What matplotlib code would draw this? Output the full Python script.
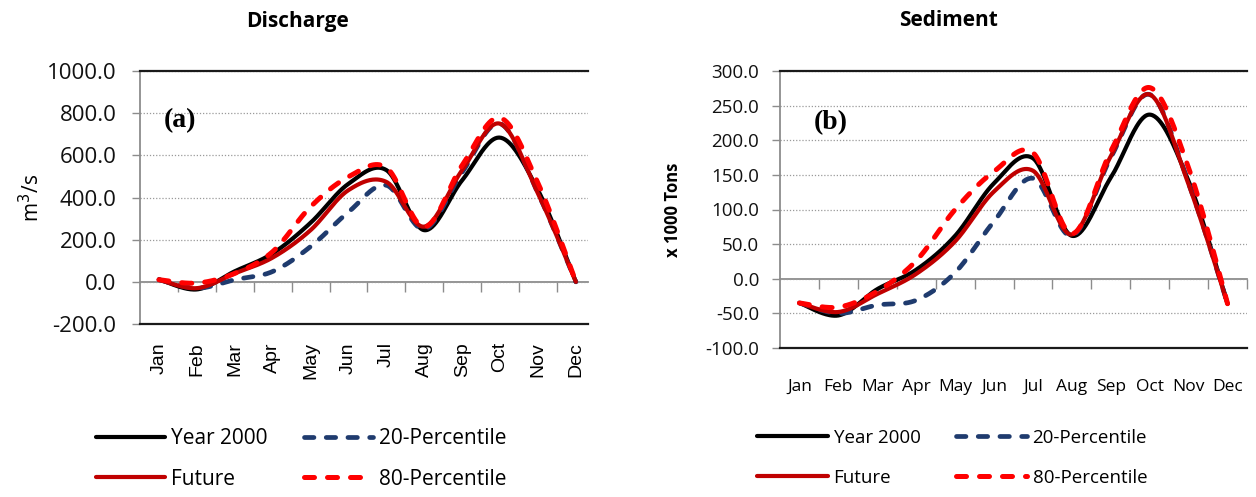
import numpy as np
import matplotlib
matplotlib.use("Agg")
import matplotlib.pyplot as plt

# ---- data -------------------------------------------------------------
months = ["Jan", "Feb", "Mar", "Apr", "May", "Jun",
          "Jul", "Aug", "Sep", "Oct", "Nov", "Dec"]

discharge_year2000 = [12, -36, 50, 135, 280, 465, 530, 245, 482, 684, 435, 0]
discharge_future = [10, -30, 40, 115, 245, 435, 474, 262, 530, 750, 419, 0]
discharge_p20 = [10, -30, 10, 49, 167, 331, 458, 250, 520, 750, 420, 0]
discharge_p80 = [10, -6, 40, 143, 356, 498, 542, 260, 553, 778, 468, 0]

sediment_year2000 = [-35, -53, -15, 13, 62, 138, 174, 62, 146, 237, 141, -36]
sediment_future = [-35, -48, -22, 7, 54, 126, 156, 64, 177, 266, 136, -36]
sediment_p20 = [-35, -50, -38, -31, 9, 83, 145, 62, 175, 266, 138, -36]
sediment_p80 = [-35, -41, -18, 26, 100, 155, 182, 65, 184, 276, 160, -36]

series_labels = ["Year 2000", "20-Percentile", "Future", "80-Percentile"]

discharge_ticks = [-200, 0, 200, 400, 600, 800, 1000]
sediment_ticks = [-100, -50, 0, 50, 100, 150, 200, 250, 300]

# ---- helpers ----------------------------------------------------------
def smooth(y, n=40):
    """Spreadsheet-style smoothed line (cubic Bezier, Catmull-Rom tangents)."""
    y = np.asarray(y, float)
    x = np.arange(len(y), dtype=float)
    px = np.concatenate([[x[0]], x, [x[-1]]])
    py = np.concatenate([[y[0]], y, [y[-1]]])
    t = np.linspace(0, 1, n)[:, None]
    out = []
    for i in range(len(y) - 1):
        p0 = np.array([px[i], py[i]])
        p1 = np.array([px[i + 1], py[i + 1]])
        p2 = np.array([px[i + 2], py[i + 2]])
        p3 = np.array([px[i + 3], py[i + 3]])
        c1 = p1 + (p2 - p0) / 6.0
        c2 = p2 - (p3 - p1) / 6.0
        seg = ((1 - t) ** 3) * p1 + 3 * ((1 - t) ** 2) * t * c1 \
            + 3 * (1 - t) * t ** 2 * c2 + t ** 3 * p2
        out.append(seg if i == 0 else seg[1:])
    pts = np.vstack(out)
    return pts[:, 0], pts[:, 1]


styles = {
    "Year 2000": dict(color="#000000", lw=3.0, ls="-", zorder=3),
    "20-Percentile": dict(color="#1F3B6E", lw=3.4, ls=(0, (2.0, 2.6)), zorder=4),
    "Future": dict(color="#C00000", lw=3.0, ls="-", zorder=5),
    "80-Percentile": dict(color="#FF0000", lw=3.6, ls=(0, (2.0, 2.6)), zorder=6),
}

GRAY = "#8C8C8C"
SANS = ["Open Sans", "DejaVu Sans"]


def draw_panel(ax, data, yticks, ylim, xright, tick_fs, tick_pad):
    lines = {}
    for label, vals in zip(series_labels, data):
        st = styles[label]
        xs, ys = smooth(vals)
        ln, = ax.plot(xs, ys, color=st["color"], lw=st["lw"], ls=st["ls"],
                      zorder=st["zorder"], solid_capstyle="round",
                      dash_capstyle="round", label=label)
        lines[label] = ln
    ax.set_xlim(-0.5, xright)
    ax.set_ylim(*ylim)
    ax.set_yticks(yticks)
    ax.set_yticklabels([f"{v:.1f}" for v in yticks], family=SANS,
                       fontsize=tick_fs, color="#111111")
    ax.tick_params(axis="y", direction="out", length=6, width=1.0,
                   color=GRAY, pad=tick_pad)
    ax.grid(axis="y", ls=(0, (1, 1.5)), color="#9A9A9A", lw=0.9, zorder=0)
    ax.set_axisbelow(True)
    for side in ("top", "bottom"):
        ax.spines[side].set_color("#1A1A1A")
        ax.spines[side].set_linewidth(1.6)
    ax.spines["left"].set_color(GRAY)
    ax.spines["left"].set_linewidth(1.3)
    ax.spines["right"].set_visible(False)
    # category axis crossing at zero with tick marks between months
    zero_frac = (0 - ylim[0]) / (ylim[1] - ylim[0])
    sec = ax.secondary_xaxis(zero_frac)
    sec.set_xticks(np.arange(len(months)) + 0.5)
    sec.set_xticklabels([])
    sec.tick_params(direction="out", length=7, width=1.0, color=GRAY)
    sec.spines["bottom"].set_color(GRAY)
    sec.spines["bottom"].set_linewidth(1.3)
    ax.set_xticks(np.arange(len(months)))
    ax.tick_params(axis="x", length=0)
    return lines


fig = plt.figure(figsize=(12.56, 4.97), dpi=100)

# ---- Discharge --------------------------------------------------------
ax1 = fig.add_axes([140 / 1256, 1 - 324 / 497, 448 / 1256, 253 / 497])
lines1 = draw_panel(ax1, [discharge_year2000, discharge_p20,
                          discharge_future, discharge_p80],
                    discharge_ticks, (-200, 1000), 11.32, 16, 11)
ax1.set_xticklabels(months, rotation=90, family=["Liberation Sans"],
                    fontsize=14, va="top")
ax1.tick_params(axis="x", pad=13)
ax1.set_ylabel("m$^3$/s", family=SANS, fontsize=15, labelpad=2)
fig.text(297 / 1256, 1 - 21 / 497, "Discharge", family=SANS, fontsize=15,
         fontweight="bold", ha="center", va="center")
fig.text(180 / 1256, 1 - 121 / 497, "(a)", family=["Liberation Serif"],
         fontsize=20, fontweight="bold", ha="center", va="center")

# ---- Sediment ---------------------------------------------------------
ax2 = fig.add_axes([780 / 1256, 1 - 348 / 497, 467 / 1256, 277 / 497])
lines2 = draw_panel(ax2, [sediment_year2000, sediment_p20,
                          sediment_future, sediment_p80],
                    sediment_ticks, (-100, 300), 11.5, 13.5, 9)
ax2.set_xticklabels(months, family=SANS, fontsize=12.5)
ax2.tick_params(axis="x", pad=22)
ax2.set_ylabel("x 1000 Tons", family=SANS, fontsize=12, fontweight="bold",
               labelpad=17)
fig.text(948 / 1256, 1 - 21 / 497, "Sediment", family=SANS, fontsize=15,
         fontweight="bold", ha="center", va="center")
fig.text(831 / 1256, 1 - 123 / 497, "(b)", family=["Liberation Serif"],
         fontsize=20, fontweight="bold", ha="center", va="center")

# ---- legends ----------------------------------------------------------
order = ["Year 2000", "Future", "20-Percentile", "80-Percentile"]
fig.legend([lines1[k] for k in order], order, loc="upper left",
           bbox_to_anchor=(96 / 1256, 1 - 428 / 497), ncol=2, frameon=False,
           prop={"family": SANS, "size": 15}, handlelength=3.3,
           handletextpad=0.3, columnspacing=1.75, labelspacing=0.95,
           borderpad=0, borderaxespad=0)
fig.legend([lines2[k] for k in order], order, loc="upper left",
           bbox_to_anchor=(757 / 1256, 1 - 429 / 497), ncol=2, frameon=False,
           prop={"family": SANS, "size": 13.5}, handlelength=3.8,
           handletextpad=0.28, columnspacing=1.9, labelspacing=1.15,
           borderpad=0, borderaxespad=0)

fig.savefig("out.png", dpi=100)
